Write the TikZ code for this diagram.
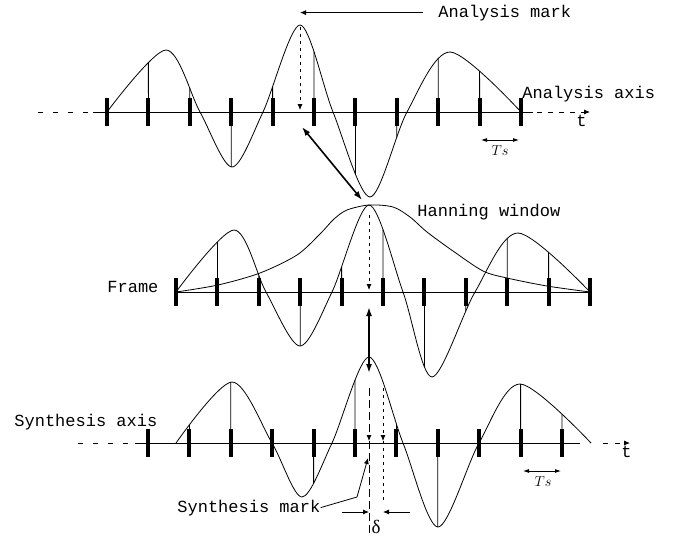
\documentclass[tikz,border=0pt]{standalone}
\usepackage{fontspec}
\setmonofont{Liberation Mono}
\newfontfamily\greekserif{Liberation Serif}
\usepackage{tikz}
\usetikzlibrary{arrows.meta,intersections}

\tikzset{
  axistick/.style={line width=4pt},
  lbl/.style={font=\ttfamily\fontsize{17}{20}\selectfont,inner sep=0pt,anchor=base west},
  mk/.style={-{Latex[length=6pt,width=5pt]}},
  bigarrow/.style={{Latex[length=9pt,width=6pt]}-{Latex[length=9pt,width=6pt]},line width=1.6pt},
  period/.style={{Latex[length=6pt,width=4pt]}-{Latex[length=6pt,width=4pt]}},
  dotline/.style={dash pattern=on 3pt off 4pt},
}

\begin{document}
\begin{tikzpicture}[x=1pt,y=-1pt,line width=0.8pt]
  \useasboundingbox (0,0) rectangle (679,539);
  % analysis axis
  \draw[dash pattern=on 5pt off 10pt] (38,112) -- (93,112);
  \draw (93,112) -- (533,112);
  \draw[dash pattern=on 5pt off 6pt,mk] (537,112) -- (590,112);
  \foreach \i in {0,...,10}
    {\draw[axistick] ({107+41.4*\i},98) -- ++(0,28);}
  \draw[name path=asig] plot[smooth] coordinates {(107,112) (166,50) (200,112)
    (232,167) (263,112) (300,25) (333,112) (370,197) (407,112) (450,52) (521,112)};
  \foreach \i in {1,...,9}
    {\path[name path=vl] ({107+41.4*\i},0) -- ++(0,250);
     \draw[name intersections={of=asig and vl}] ({107+41.4*\i},112) -- (intersection-1);}
  \node[lbl] (aaxis) at (522,98) {Analysis axis};
  \node[lbl] (at) at (576,126) {t};
  \draw[period] (481,140) -- (519,140);
  \node[font=\fontsize{14}{16}\selectfont] (ts1) at (500,151) {$Ts$};
  % analysis mark
  \coordinate (apk) at (300,27);
  \node[lbl] (amark) at (438,17) {Analysis mark};
  \draw[mk] (amark.west) ++(-15,0) -- (apk |- amark.west);
  \draw[mk,dotline] (apk) -- (300,110);
  \draw[bigarrow] (302,127) -- (362,200);

  % frame
  \draw (176,292) -- (590,292);
  \foreach \i in {0,...,10}
    {\draw[axistick] ({176+41.4*\i},278) -- ++(0,28);}
  \draw plot[smooth] coordinates {(176,292) (218,285) (260,273) (297,255)
    (320,234) (334,219) (347,210) (369,205) (393,207) (410,217) (427,232)
    (453,251) (483,271) (507,278) (547,286) (590,292)};
  \draw[name path=msig] plot[smooth] coordinates {(176,292) (234,230) (266,292)
    (300,346) (332,292) (369,205) (403,292) (432,377) (475,292) (518,233) (590,292)};
  \foreach \i in {1,...,9}
    {\path[name path=vl] ({176+41.4*\i},150) -- ++(0,300);
     \draw[name intersections={of=msig and vl}] ({176+41.4*\i},292) -- (intersection-1);}
  \node[lbl] (frame) at (107,292) {Frame};
  \node[lbl] (hann) at (417,216) {Hanning window};
  \draw[mk,dotline] (369,215) -- (369,290);
  \draw[bigarrow] (369,307) -- (369,373);

  % synthesis axis
  \draw[dash pattern=on 5pt off 10pt] (78,443) -- (133,443);
  \draw (135,443) -- (580,443);
  \draw[dash pattern=on 5pt off 7pt,mk] (603,443) -- (630,443);
  \foreach \i in {0,...,10}
    {\draw[axistick] ({148+41.4*\i},429) -- ++(0,28);}
  \draw[name path=bsig] plot[smooth] coordinates {(176,443) (232,382) (272,443)
    (302,497) (332,443) (369,357) (403,443) (438,527) (479,443) (520,384) (591,443)};
  \foreach \i in {1,...,10}
    {\path[name path=vl] ({148+41.4*\i},300) -- ++(0,239);
     \draw[name intersections={of=bsig and vl}] ({148+41.4*\i},443) -- (intersection-1);}
  \node[lbl] (saxis) at (14,426) {Synthesis axis};
  \node[lbl] (st) at (621,457) {t};
  \draw[period] (523,471) -- (561,471);
  \node[font=\fontsize{14}{16}\selectfont] (ts2) at (543,482) {$Ts$};
  % synthesis mark and delta
  \draw[mk,dash pattern=on 8pt off 4pt] (369,388) -- (369,441);
  \draw[dash pattern=on 8pt off 4pt] (369,441) -- (369,535);
  \draw[mk,dotline] (383,388) -- (383,441);
  \draw[dotline] (383,441) -- (383,503);
  \draw[mk] (342,512) -- (369,512);
  \draw[mk] (410,512) -- (383,512);
  \node[font=\greekserif\fontsize{19}{21}\selectfont,inner sep=0pt] (delta) at (376,527) {δ};
  \node[lbl] (smark) at (177,512) {Synthesis mark};
  \draw[mk] (smark.east) -- (357,497) -- (368,458);
\end{tikzpicture}
\end{document}
